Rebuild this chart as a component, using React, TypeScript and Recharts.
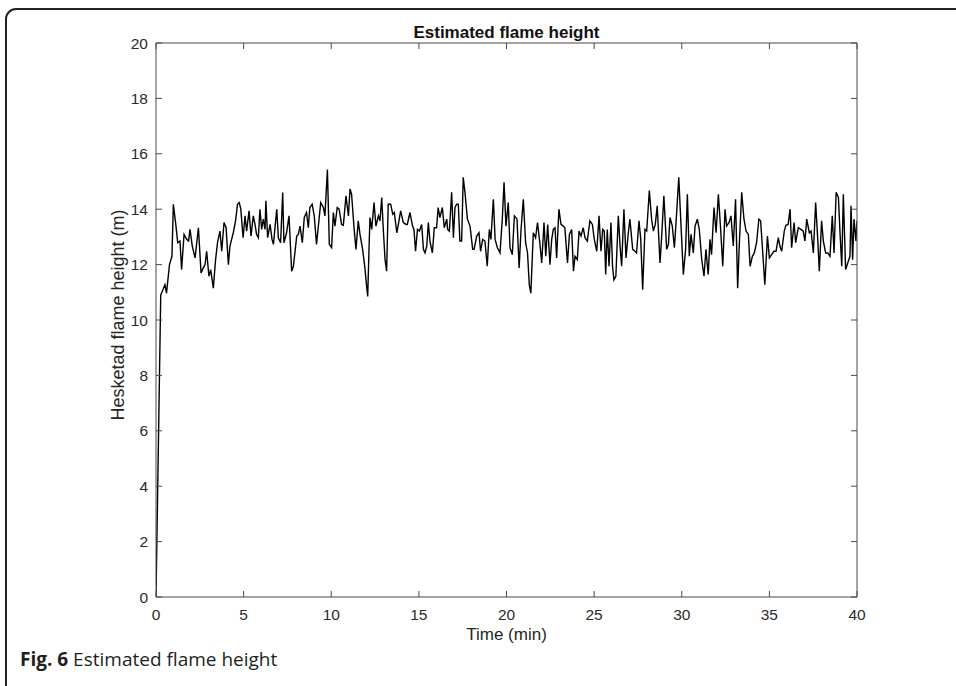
import React from 'react';
import { LineChart, Line, XAxis, YAxis } from 'recharts';

const timeMin: number[] = [
  0, 0.27, 0.51, 0.6, 0.77, 0.91, 0.99, 1.14, 1.24, 1.37, 1.46, 1.6, 1.75, 1.86, 1.94, 2.07, 2.23, 2.42, 2.57, 2.7,
  2.8, 2.89, 3.02, 3.12, 3.27, 3.4, 3.51, 3.65, 3.75, 3.88, 4.0, 4.13, 4.22, 4.41, 4.54, 4.65, 4.75, 4.84, 4.97, 5.08,
  5.17, 5.31, 5.42, 5.55, 5.65, 5.74, 5.84, 5.93, 6.03, 6.12, 6.22, 6.27, 6.37, 6.51, 6.62, 6.7, 6.89, 6.98, 7.11, 7.23,
  7.3, 7.45, 7.59, 7.74, 7.84, 8.03, 8.12, 8.22, 8.35, 8.46, 8.59, 8.69, 8.78, 8.91, 9.03, 9.16,
  9.4, 9.55, 9.64, 9.78, 9.89, 10.02, 10.12, 10.21, 10.34, 10.45, 10.59, 10.69, 10.84, 10.98, 11.07, 11.16, 11.3, 11.41,
  11.54, 11.64, 11.79, 11.92, 12.01, 12.08, 12.16, 12.21, 12.31, 12.44, 12.55, 12.69, 12.78, 12.88, 12.97, 13.07, 13.16,
  13.25, 13.39, 13.51, 13.6, 13.74, 13.83, 13.96, 14.11, 14.27, 14.34, 14.49, 14.64, 14.72, 14.81, 14.92, 15.03, 15.16,
  15.26, 15.35, 15.45, 15.54, 15.63, 15.77, 15.88, 16.01, 16.1, 16.2, 16.34, 16.45, 16.59, 16.64, 16.74, 16.87, 16.97,
  17.06, 17.16, 17.25, 17.34, 17.44, 17.53, 17.63, 17.77, 17.92, 18.07, 18.15, 18.3, 18.43,
  18.52, 18.64, 18.77, 18.9, 19.02, 19.11, 19.25, 19.35, 19.48, 19.63, 19.76, 19.86, 19.97, 20.1, 20.2, 20.33, 20.45,
  20.6, 20.72, 20.83, 20.96, 21.09, 21.2, 21.3, 21.39, 21.53, 21.66, 21.77, 21.91, 22.01, 22.14, 22.24, 22.35, 22.48,
  22.58, 22.67, 22.77, 22.86, 22.99, 23.11, 23.24, 23.33, 23.48, 23.59, 23.72, 23.82, 23.91, 24.04, 24.14, 24.25, 24.38,
  24.48, 24.61, 24.76, 24.9, 25.01, 25.15, 25.28, 25.39, 25.49, 25.58, 25.66, 25.75, 25.85, 25.96, 26.05, 26.13, 26.24,
  26.38, 26.48, 26.57, 26.7, 26.82, 26.95, 27.04, 27.2, 27.33, 27.42, 27.56,
  27.66, 27.77, 27.9, 28.0, 28.15, 28.28, 28.38, 28.49, 28.6, 28.76, 28.85, 28.98, 29.14, 29.24, 29.33, 29.46, 29.58,
  29.71, 29.83, 29.96, 30.09, 30.22, 30.32, 30.43, 30.53, 30.66, 30.76, 30.89, 31.0, 31.14, 31.27, 31.38, 31.51, 31.61,
  31.7, 31.84, 31.96, 32.09, 32.22, 32.34, 32.47, 32.56, 32.7, 32.81, 32.94, 33.07, 33.19, 33.28, 33.42, 33.55, 33.67,
  33.8, 33.9, 34.03, 34.14, 34.27, 34.4, 34.5, 34.61, 34.74, 34.89, 35.0, 35.13, 35.26, 35.38, 35.51, 35.6, 35.7, 35.85,
  35.94, 36.07, 36.18, 36.27, 36.41, 36.5, 36.65,
  36.8, 36.93, 37.03, 37.13, 37.28, 37.38, 37.51, 37.64, 37.76, 37.85, 37.98, 38.08, 38.21, 38.33, 38.46, 38.59, 38.69,
  38.81, 38.94, 39.03, 39.13, 39.22, 39.35, 39.47, 39.6, 39.66, 39.75, 39.83, 39.94, 40.0,
];

const flameHeight: number[] = [
  0, 10.9, 11.27, 10.97, 12.0, 12.3, 14.18, 13.39, 12.79, 12.85, 11.82, 13.09, 12.91, 12.85, 13.27, 12.67, 12.24, 13.33, 11.7, 11.88,
  12.0, 12.48, 11.58, 11.82, 11.15, 12.18, 12.79, 13.21, 12.48, 13.52, 13.33, 12.0, 12.67, 13.15, 13.58, 14.18, 14.24, 14.0, 12.97, 13.76,
  13.21, 13.94, 13.03, 13.76, 13.45, 13.09, 12.97, 14.0, 13.27, 13.64, 13.27, 14.3, 12.97, 13.45, 12.91, 12.73, 14.0, 12.97, 12.79, 14.6,
  12.79, 13.15, 13.76, 11.76, 11.94, 13.03, 13.09, 13.39, 12.79, 13.7, 13.88, 13.33, 14.06, 14.18, 13.76, 12.73,
  14.24, 14.06, 13.76, 15.43, 12.73, 12.61, 13.88, 13.39, 14.06, 14.0, 13.45, 13.42, 14.48, 13.76, 14.73, 14.54, 13.33, 12.55,
  13.58, 13.09, 12.55, 11.88, 11.27, 10.85, 12.67, 13.7, 13.27, 14.24, 13.39, 13.76, 13.58, 14.42, 13.27, 12.18, 11.76,
  14.18, 14.18, 13.82, 13.88, 13.15, 13.45, 13.94, 13.52, 13.45, 13.45, 13.88, 13.39, 13.27, 12.48, 13.27, 13.21, 13.45,
  12.55, 12.42, 12.67, 13.52, 12.85, 12.42, 13.33, 13.33, 14.06, 13.7, 14.06, 13.33, 13.64, 13.27, 13.21, 14.61, 12.97,
  14.06, 14.18, 14.18, 12.85, 12.85, 15.15, 14.61, 13.64, 13.39, 12.55, 12.55, 13.03, 13.15,
  12.48, 12.91, 12.85, 11.94, 13.27, 12.91, 14.36, 12.91, 12.61, 12.42, 13.64, 14.97, 13.39, 14.24, 12.61, 12.36, 13.76,
  13.64, 11.88, 13.27, 14.36, 12.79, 12.42, 11.27, 10.97, 13.15, 12.97, 13.52, 12.73, 12.06, 13.52, 12.3, 13.45, 12.0,
  12.91, 13.27, 13.33, 12.24, 14.0, 13.45, 13.39, 13.33, 12.06, 13.09, 13.27, 11.76, 12.3, 12.18, 13.21, 13.03, 13.33,
  12.97, 12.85, 13.58, 13.45, 12.91, 12.48, 13.76, 12.48, 13.27, 13.21, 11.64, 13.27, 11.94, 13.52, 11.94, 11.45, 11.58,
  13.76, 12.67, 11.94, 14.0, 12.24, 13.15, 13.64, 12.55, 12.48, 12.42, 13.58,
  12.91, 11.09, 13.27, 13.21, 14.67, 13.64, 13.21, 13.45, 14.12, 12.06, 12.97, 14.48, 12.55, 12.73, 13.7, 13.39, 12.61,
  13.88, 15.15, 13.39, 11.64, 12.55, 14.54, 12.3, 13.09, 12.42, 13.39, 13.64, 13.27, 12.18, 11.58, 12.55, 11.64, 12.91,
  12.36, 14.06, 13.15, 14.54, 13.27, 11.94, 14.0, 13.39, 13.52, 13.76, 12.67, 14.36, 11.15, 12.67, 14.61, 13.64, 13.21,
  13.09, 11.94, 12.3, 12.42, 12.79, 13.64, 13.58, 12.55, 11.27, 13.03, 12.24, 12.36, 12.48, 12.48, 12.97, 12.67, 12.48, 13.21,
  13.42, 13.45, 14.0, 12.61, 13.52, 12.79, 13.33,
  13.27, 13.21, 12.85, 13.64, 13.15, 13.21, 12.42, 14.24, 12.91, 11.76, 13.58, 12.85, 12.42, 12.42, 12.3, 13.76, 12.42,
  14.61, 14.42, 13.15, 11.94, 14.54, 11.82, 12.06, 12.3, 14.12, 12.18, 13.64, 12.85, 13.58,
];

const xTicks: number[] = [0, 5, 10, 15, 20, 25, 30, 35, 40];
const yTicks: number[] = [0, 2, 4, 6, 8, 10, 12, 14, 16, 18, 20];

const titleText = 'Estimated flame height';
const xLabelText = 'Time (min)';
const yLabelText = 'Hesketad flame height (m)';
const captionBold = 'Fig. 6';
const captionText = ' Estimated flame height';

const data = timeMin.map((t, i) => ({ t, h: flameHeight[i] }));

const AXIS = '#4a4a4a';
const TICK_FILL = '#2b2b2b';
const FONT = "'Liberation Sans', Arial, Helvetica, sans-serif";

export default function App() {
  return (
    <div
      style={{
        position: 'absolute',
        left: 0,
        top: 0,
        width: 956,
        height: 686,
        overflow: 'hidden',
        background: '#ffffff',
        fontFamily: FONT,
      }}
    >
      <div
        style={{
          position: 'absolute',
          left: 5,
          top: 8,
          width: 1100,
          height: 900,
          border: '2px solid #222',
          borderTopLeftRadius: 11,
          boxSizing: 'border-box',
        }}
      />
      <div style={{ position: 'absolute', left: 0, top: 0 }}>
        <LineChart
          width={956}
          height={686}
          data={data}
          margin={{ top: 23, right: 79, bottom: 59, left: 0 }}
        >
          <XAxis
            dataKey="t"
            type="number"
            domain={[0, 40]}
            ticks={xTicks}
            allowDataOverflow
            height={30}
            tickSize={-6}
            tickMargin={18}
            stroke={AXIS}
            tick={{ fill: TICK_FILL, fontSize: 15.5, fontFamily: FONT }}
            interval={0}
          />
          <XAxis
            xAxisId="top"
            orientation="top"
            dataKey="t"
            type="number"
            domain={[0, 40]}
            ticks={xTicks}
            allowDataOverflow
            height={20}
            tickSize={-6}
            stroke={AXIS}
            tickFormatter={() => ''}
            interval={0}
          />
          <YAxis
            type="number"
            domain={[0, 20]}
            ticks={yTicks}
            allowDataOverflow
            width={156}
            tickSize={-6}
            tickMargin={14}
            stroke={AXIS}
            tick={{ fill: TICK_FILL, fontSize: 15.5, fontFamily: FONT }}
            interval={0}
          />
          <YAxis
            yAxisId="right"
            orientation="right"
            type="number"
            domain={[0, 20]}
            ticks={yTicks}
            allowDataOverflow
            width={20}
            tickSize={-6}
            stroke={AXIS}
            tickFormatter={() => ''}
            interval={0}
          />
          <Line
            type="linear"
            dataKey="h"
            stroke="#000000"
            strokeWidth={1.4}
            dot={false}
            activeDot={false}
            isAnimationActive={false}
          />
        </LineChart>
      </div>
      <div
        style={{
          position: 'absolute',
          left: 156,
          width: 701,
          top: 24,
          textAlign: 'center',
          fontSize: 17,
          lineHeight: '17px',
          fontWeight: 'bold',
          color: '#111',
          whiteSpace: 'nowrap',
        }}
      >
        {titleText}
      </div>
      <div
        style={{
          position: 'absolute',
          left: 156,
          width: 701,
          top: 626,
          textAlign: 'center',
          fontSize: 17,
          lineHeight: '17px',
          color: '#262626',
          whiteSpace: 'nowrap',
        }}
      >
        {xLabelText}
      </div>
      <div
        style={{
          position: 'absolute',
          left: 118,
          top: 315,
          transform: 'translate(-50%, -50%) rotate(-90deg)',
          fontSize: 18,
          lineHeight: '18px',
          color: '#262626',
          whiteSpace: 'nowrap',
        }}
      >
        {yLabelText}
      </div>
      <div
        style={{
          position: 'absolute',
          left: 20,
          top: 648,
          fontFamily: "'Open Sans', 'Noto Sans', sans-serif",
          fontSize: 19,
          lineHeight: '22px',
          color: '#231f20',
          whiteSpace: 'nowrap',
        }}
      >
        <span style={{ fontWeight: 'bold' }}>{captionBold}</span>
        {captionText}
      </div>
    </div>
  );
}
